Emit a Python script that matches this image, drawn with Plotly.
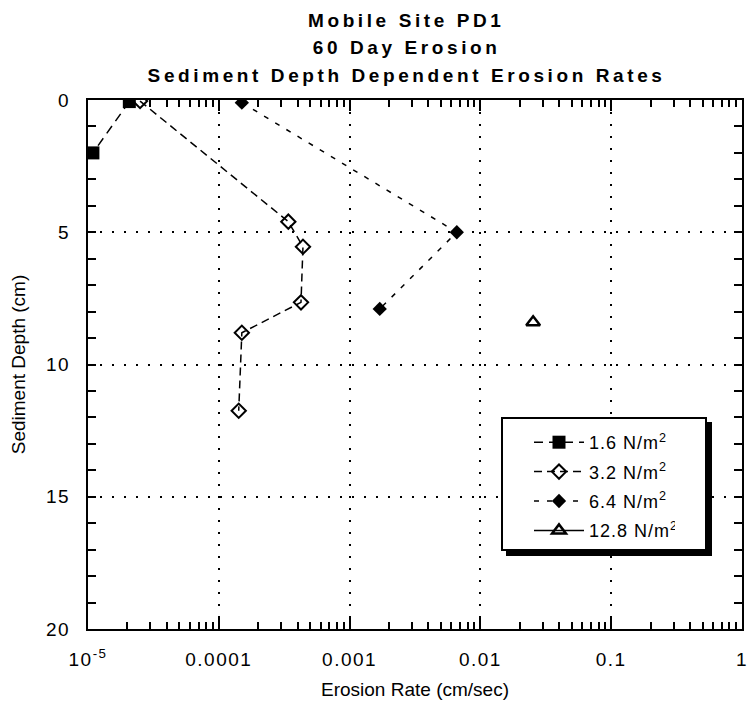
import plotly.graph_objects as go

# ---- data ----
rate_16 = [2.07e-5, 1.09e-5]
depth_16 = [0.06, 2.0]

rate_32 = [2.5e-5, 3.4e-4, 4.4e-4, 4.25e-4, 1.5e-4, 1.42e-4]
depth_32 = [0.04, 4.6, 5.55, 7.65, 8.8, 11.75]

rate_64 = [1.5e-4, 6.6e-3, 1.7e-3]
depth_64 = [0.1, 5.0, 7.9]

rate_128 = [0.0253]
depth_128 = [8.4]

series_names = ["1.6 N/m<sup>2</sup>", "3.2 N/m<sup>2</sup>", "6.4 N/m<sup>2</sup>", "12.8 N/m<sup>2</sup>"]

x_tickvals = [1e-5, 1e-4, 1e-3, 1e-2, 1e-1, 1]
x_ticktext = ["10<sup>-5</sup>", "0.0001", "0.001", "0.01", "0.1", "1"]

title_lines = ["Mobile Site PD1", "60 Day Erosion", "Sediment Depth Dependent Erosion Rates"]

FONT = "Liberation Sans, Arial, sans-serif"
W, H = 748, 708
ML, MR, MT, MB = 88, 6, 100, 79
PW, PH = W - ML - MR, H - MT - MB


def px_x(p):
    return (p - ML) / PW


def px_y(p):
    return (H - MB - p) / PH


fig = go.Figure()

fig.add_trace(go.Scatter(
    x=rate_16, y=depth_16, name=series_names[0], mode="lines+markers",
    line=dict(color="black", width=1.5, dash="9px,6px"),
    marker=dict(symbol="square", size=13, color="black"),
    legendgroup="a"))
fig.add_trace(go.Scatter(
    x=rate_32, y=depth_32, name=series_names[1], mode="lines+markers",
    line=dict(color="black", width=1.5, dash="8px,5px"),
    marker=dict(symbol="diamond-open", size=11, color="black", line=dict(width=2)),
    legendgroup="b"))
fig.add_trace(go.Scatter(
    x=rate_64, y=depth_64, name=series_names[2], mode="lines+markers",
    line=dict(color="black", width=1.5, dash="5px,8px"),
    marker=dict(symbol="diamond", size=11, color="black"),
    legendgroup="c"))
fig.add_trace(go.Scatter(
    x=rate_128, y=depth_128, name=series_names[3], mode="lines+markers",
    line=dict(color="black", width=1.5),
    marker=dict(symbol="triangle-up-open", size=12, color="black", line=dict(width=2.5)),
    legendgroup="d"))

axis_common = dict(
    showline=True, linecolor="black", linewidth=2, mirror="ticks",
    ticks="inside", tickcolor="black", tickwidth=1.5,
    showgrid=True, gridcolor="black", gridwidth=2, griddash="2px,10px",
    zeroline=False, automargin=False, ticklabeloverflow="allow",
    tickfont=dict(family=FONT, size=19, color="black"),
)

fig.update_xaxes(
    type="log", range=[-5, 0],
    tickmode="array", tickvals=x_tickvals, ticktext=x_ticktext,
    ticklen=11, ticklabelstandoff=12,
    minor=dict(ticks="inside", ticklen=7, tickcolor="black", tickwidth=1.5,
               dtick="D1", showgrid=False),
    title=dict(text="Erosion Rate (cm/sec)", font=dict(family=FONT, size=19, color="black"), standoff=14),
    **axis_common)

fig.update_yaxes(
    range=[20, 0], tick0=0, dtick=5, ticklen=8, ticklabelstandoff=12,
    minor=dict(ticks="inside", ticklen=8, tickcolor="black", tickwidth=1.5, dtick=1, showgrid=False),
    title=dict(text="Sediment Depth (cm)", font=dict(family=FONT, size=19, color="black"), standoff=18),
    **axis_common)

# title lines
title_y_px = [21, 48, 75]
for txt, ty in zip(title_lines, title_y_px):
    fig.add_annotation(text="<b>%s</b>" % txt, xref="paper", yref="paper",
                       x=px_x(406), y=px_y(ty), xanchor="center", yanchor="middle",
                       showarrow=False, font=dict(family=FONT, size=19, color="black"))

# legend frame with drop shadow
box_l, box_r, box_t, box_b = 502, 706, 418, 550
shadow = 5
fig.add_shape(type="rect", xref="paper", yref="paper",
              x0=px_x(box_l + shadow), x1=px_x(box_r + shadow),
              y0=px_y(box_b + shadow), y1=px_y(box_t + shadow),
              fillcolor="black", line=dict(color="black", width=2), layer="above")
fig.add_shape(type="rect", xref="paper", yref="paper",
              x0=px_x(box_l), x1=px_x(box_r), y0=px_y(box_b), y1=px_y(box_t),
              fillcolor="white", line=dict(color="black", width=2), layer="above")

fig.update_layout(
    width=W, height=H,
    margin=dict(l=ML, r=MR, t=MT, b=MB, autoexpand=False),
    paper_bgcolor="white", plot_bgcolor="white",
    font=dict(family=FONT, color="black"),
    showlegend=True,
    legend=dict(x=px_x(box_l + 27), y=px_y(box_t + 6), xanchor="left", yanchor="top",
                bgcolor="rgba(0,0,0,0)", borderwidth=0,
                font=dict(family=FONT, size=18, color="black"),
                traceorder="grouped", tracegroupgap=3, itemwidth=50),
)

post = """
document.body.style.margin='0';
var gd=document.getElementById('{plot_id}');
gd.querySelectorAll('.annotation-text').forEach(function(t){t.style.letterSpacing='3.6px';});
gd.querySelectorAll('.xtick text, .ytick text').forEach(function(t){t.style.letterSpacing='1.5px';});
gd.querySelectorAll('.legendtext').forEach(function(t){t.style.letterSpacing='1px';});
"""

fig.write_html("out.html", post_script=post, config={"displayModeBar": False})
